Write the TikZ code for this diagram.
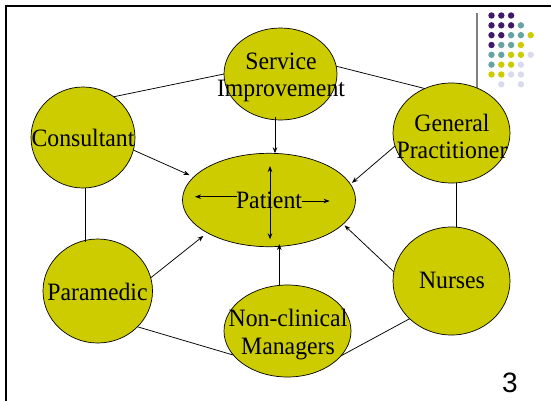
\documentclass[tikz,border=0pt]{standalone}
\usepackage{fontspec}
\setmainfont{Liberation Serif}[FakeStretch=0.95]
\newfontfamily\arialfont{Liberation Sans}
\usetikzlibrary{shapes.geometric,arrows.meta,calc}
\definecolor{bubblefill}{HTML}{CCCC00}
\definecolor{dotP}{HTML}{421868}
\definecolor{dotT}{HTML}{66A3A3}
\definecolor{dotY}{HTML}{CCCC00}
\definecolor{dotL}{HTML}{DADAEE}
\begin{document}
\begin{tikzpicture}[x=1pt,y=-1pt,
  bub/.style={ellipse,draw=black,line width=0.7pt,fill=bubblefill,inner sep=0pt,outer sep=0pt},
  lbl/.style={inner sep=0pt,font=\fontsize{25}{27.5}\selectfont,align=center},
  link/.style={draw=black,line width=0.75pt},
  arr/.style={link,-{Stealth[length=6pt,width=4.5pt]}}
]
\useasboundingbox (0,0) rectangle (551,400);
\fill[white] (0,0) rectangle (551,400);
% frame
\draw[line width=2.5pt,line join=miter] (6,401) -- (6,6) -- (552,6);
\draw[gray,line width=1.2pt] (477,13) -- (477,90);
% dots
\foreach \c/\r/\col in {1/1/dotP,2/1/dotP,3/1/dotP,
  1/2/dotP,2/2/dotP,3/2/dotP,4/2/dotT,
  1/3/dotP,2/3/dotP,3/3/dotT,4/3/dotT,5/3/dotY,
  1/4/dotP,2/4/dotT,3/4/dotT,4/4/dotY,
  1/5/dotT,2/5/dotT,3/5/dotY,4/5/dotY,5/5/dotL,
  1/6/dotT,2/6/dotY,3/6/dotY,4/6/dotL,
  1/7/dotY,2/7/dotY,3/7/dotL,4/7/dotL,
  2/8/dotL,4/8/dotL}
  \fill[\col] ({491.5+(\c-1)*9.8},{15.5+(\r-1)*9.83}) circle (3.2pt);
% bubbles
\node[bub,minimum width=113pt,minimum height=92pt] (serv) at (280.5,74) {};
\node[bub,minimum width=104pt,minimum height=101pt] (cons) at (83,137.5) {};
\node[bub,minimum width=117pt,minimum height=100pt] (gp) at (451.5,133) {};
\node[bub,minimum width=173pt,minimum height=93.4pt] (pat) at (269,200) {};
\node[bub,minimum width=109.5pt,minimum height=104pt] (par) at (97.75,291) {};
\node[bub,minimum width=127pt,minimum height=92pt] (nc) at (287.5,331) {};
\node[bub,minimum width=117pt,minimum height=108pt] (nur) at (451.5,281) {};
% labels
\node[lbl] (servt) at (281,77.2) {Service\\Improvement};
\node[lbl,anchor=base] (const) at (83,146.7) {Consultant};
\node[lbl] (gpt) at (452,136.2) {General\\Practitioner};
\node[lbl,anchor=base] (patt) at (269,208.3) {Patient};
\node[lbl,anchor=base] (part) at (97.5,300) {Paramedic};
\node[lbl] (nct) at (288,334.6) {Non-clinical\\Managers};
\node[lbl,anchor=base] (nurt) at (452,288.3) {Nurses};
\node[inner sep=0pt,anchor=base,font=\arialfont\fontsize{28}{30}\selectfont] (pnum) at (510,392.7) {3};
% links
\draw[link] (cons.53) -- (serv.180);
\draw[link] (serv.8) -- (gp.121.5);
\draw[link] (par.-42) -- (nc.204);
\draw[link] (nur.222) -- (nc.-25);
\coordinate (cpA) at ([xshift=2.7pt]cons.south);
\draw[link,shorten >=-3pt] (cpA) -- (cpA |- par.north);
\coordinate (gnA) at ([xshift=4.5pt]gp.south);
\draw[link] (gnA) -- (gnA |- nur.north);
% arrows into patient
\draw[arr,shorten >=4.7pt] (cons.-14) -- (pat.163);
\draw[arr,shorten >=2pt] (gp.193) -- (pat.11);
\draw[arr,shorten >=5pt] (par.14) -- (pat.208);
\draw[arr,shorten >=2pt] (nur.171) -- (pat.-18);
\coordinate (spA) at ([xshift=-5.5pt,yshift=3.3pt]serv.south);
\draw[arr] (spA) -- (spA |- pat.north);
\coordinate (npA) at ([xshift=-8.2pt]nc.north);
\draw[arr,shorten >=-2.7pt] (npA) -- (npA |- pat.south);
% arrows inside patient
\coordinate (pvT) at ($(pat.center)+(1,-34)$);
\coordinate (pvB) at ($(pat.center)+(1,39.3)$);
\draw[link,{Stealth[length=6pt,width=4.5pt]}-{Stealth[length=6pt,width=4.5pt]}] (pvT) -- (pvB);
\coordinate (plA) at ($(pat.center)+(-32.5,-3.3)$);
\coordinate (plB) at ($(pat.center)+(-74,-3.3)$);
\draw[arr] (plA) -- (plB);
\coordinate (prA) at ($(pat.center)+(32.5,1)$);
\coordinate (prB) at ($(pat.center)+(60.6,1)$);
\draw[arr] (prA) -- (prB);
\end{tikzpicture}
\end{document}
